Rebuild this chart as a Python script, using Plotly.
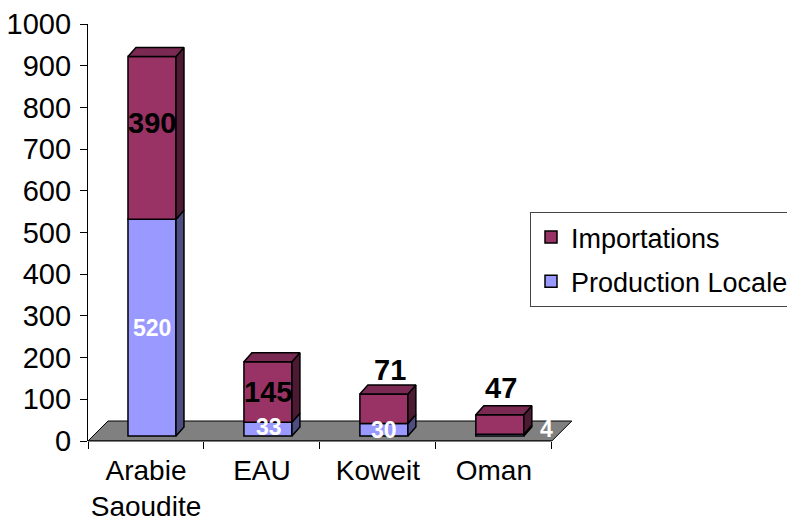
import plotly.graph_objects as go

# ---- data ----
categories = ["Arabie<br>Saoudite", "EAU", "Koweit", "Oman"]
production_locale = [520, 33, 30, 4]
importations = [390, 145, 71, 47]
y_ticks = list(range(0, 1001, 100))

# ---- styling / geometry (pixels) ----
W, H = 787, 525
L, T, R, B = 88, 24, 575, 441
X_RANGE = [-0.5, 3.7]
Y_RANGE = [0, 1000]
px_x = (R - L) / (X_RANGE[1] - X_RANGE[0])
px_y = (B - T) / (Y_RANGE[1] - Y_RANGE[0])

FLOOR_D = 20      # floor depth (px)
BAR_OFF_X, BAR_OFF_Y = 6, 5   # bar front offset from floor front
BAR_D_X, BAR_D_Y = 8, 9       # bar depth
BAR_W = 48

FONT = "Arial, Liberation Sans, sans-serif"
C_IMP = ("#993366", "#4d1a33", "#7a2952")   # front, side, top
C_PRO = ("#9999ff", "#4d4d80", "#7a7acc")

ox = BAR_OFF_X / px_x
oy = BAR_OFF_Y / px_y
ddx = BAR_D_X / px_x
ddy = BAR_D_Y / px_y
bw = BAR_W / px_x

xs = list(range(len(categories)))
bar_x = [x + ox for x in xs]
pro_base = [oy for _ in xs]
imp_base = [oy + p for p in production_locale]

fig = go.Figure()


def side_polys(bases, vals):
    px, py = [], []
    for xc, b, v in zip(bar_x, bases, vals):
        xr = xc + bw / 2
        t = b + v
        px += [xr, xr + ddx, xr + ddx, xr, xr, None]
        py += [b, b + ddy, t + ddy, t, b, None]
    return px, py


def top_polys(bases, vals):
    px, py = [], []
    for xc, b, v in zip(bar_x, bases, vals):
        xl, xr = xc - bw / 2, xc + bw / 2
        t = b + v
        px += [xl, xl + ddx, xr + ddx, xr, xl, None]
        py += [t, t + ddy, t + ddy, t, t, None]
    return px, py


# front faces
fig.add_trace(go.Bar(x=bar_x, y=production_locale, base=pro_base, width=bw,
                     name="Production Locale", marker=dict(color=C_PRO[0], line=dict(color="black", width=1.5)),
                     legendrank=2, legendgroup="pro", hoverinfo="skip"))
fig.add_trace(go.Bar(x=bar_x, y=importations, base=imp_base, width=bw,
                     name="Importations", marker=dict(color=C_IMP[0], line=dict(color="black", width=1.5)),
                     legendrank=1, legendgroup="imp", hoverinfo="skip"))

# side and top faces
for bases, vals, cols in [(pro_base, production_locale, C_PRO), (imp_base, importations, C_IMP)]:
    sx, sy = side_polys(bases, vals)
    fig.add_trace(go.Scatter(x=sx, y=sy, mode="lines", fill="toself", fillcolor=cols[1],
                             line=dict(color="black", width=1.5), showlegend=False, hoverinfo="skip"))
tx, ty = top_polys(imp_base, importations)
fig.add_trace(go.Scatter(x=tx, y=ty, mode="lines", fill="toself", fillcolor=C_IMP[2],
                         line=dict(color="black", width=1.5), showlegend=False, hoverinfo="skip"))

# floor
fdx, fdy = FLOOR_D / px_x, FLOOR_D / px_y
x0, x1 = -0.5, len(categories) - 0.5
floor_path = f"M{x0},0 L{x0 + fdx},{fdy} L{x1 + fdx},{fdy} L{x1},0 Z"
shapes = [
    dict(type="path", path=floor_path, xref="x", yref="y", fillcolor="#808080",
         line=dict(color="black", width=1), layer="below"),
    dict(type="line", xref="x", yref="paper", x0=x0, x1=x1, y0=0, y1=0,
         line=dict(color="black", width=1.2)),
]

# data labels
label_shift = {  # (category index, series) -> (xshift px, yshift px)
    (0, "imp"): (0, 15),
    (2, "imp"): (6, 39),
    (3, "imp"): (1, 37),
    (3, "pro"): (47, 6),
    (1, "pro"): (1, 2),
}
annotations = []
for i in xs:
    for key, bases, vals, color, size in [("pro", pro_base, production_locale, "white", 23),
                                          ("imp", imp_base, importations, "black", 29)]:
        sx_, sy_ = label_shift.get((i, key), (0, 0))
        annotations.append(dict(x=bar_x[i], y=bases[i] + vals[i] / 2, xref="x", yref="y",
                                text=f"<b>{vals[i]}</b>", showarrow=False,
                                font=dict(family=FONT, size=size, color=color),
                                xshift=sx_, yshift=sy_))

fig.update_layout(
    width=W, height=H,
    margin=dict(l=L, r=W - R, t=T, b=H - B, autoexpand=False),
    paper_bgcolor="white", plot_bgcolor="white",
    barmode="overlay",
    font=dict(family=FONT, size=29, color="black"),
    shapes=shapes, annotations=annotations,
    xaxis=dict(range=X_RANGE, showgrid=False, zeroline=False, showline=False,
               tickvals=xs, ticktext=categories, ticks="",
               tickfont=dict(size=28), ticklabelstandoff=10,
               minor=dict(tickvals=[x - 0.5 for x in xs] + [len(xs) - 0.5], ticks="outside",
                          ticklen=7, tickcolor="black", tickwidth=1)),
    yaxis=dict(range=Y_RANGE, tickvals=y_ticks, showgrid=False, zeroline=False,
               showline=True, linecolor="black", linewidth=1.2,
               ticks="outside", ticklen=7, tickcolor="black",
               tickfont=dict(size=29), ticklabelstandoff=3),
    legend=dict(x=(530 - L) / (R - L), y=(B - 212) / (B - T), xanchor="left", yanchor="top",
                bordercolor="#444", borderwidth=1, bgcolor="white",
                font=dict(size=27), traceorder="grouped", tracegroupgap=6),
    showlegend=True,
)

fig.write_html("out.html")
